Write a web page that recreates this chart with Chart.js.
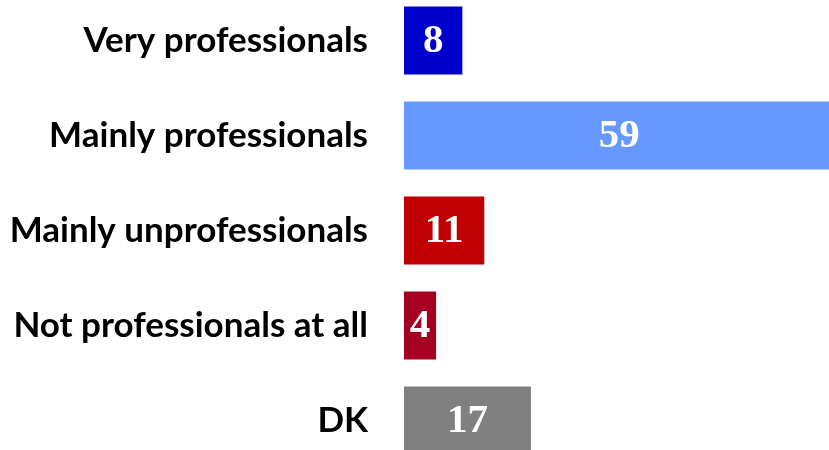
<!DOCTYPE html>
<html>
<head>
<meta charset="utf-8">
<script src="https://cdn.jsdelivr.net/npm/chart.js@4"></script>
<style>
  html, body { margin: 0; padding: 0; overflow: hidden; background: #fff; width: 829px; height: 450px; }
  #barChart { position: absolute; left: 0; top: -7px; }
</style>
</head>
<body>
<canvas id="barChart" width="860" height="475"></canvas>
<script>
var categories = ['Very professionals', 'Mainly professionals', 'Mainly unprofessionals', 'Not professionals at all', 'DK'];
var values = [8, 59, 11, 4.4, 17.4];
var barColors = ['#0000CC', '#6699FF', '#C00000', '#A50021', '#808080'];

// white value labels in the middle of each bar
var barLabels = {
    id: 'barLabels',
    afterDatasetsDraw: function(chart) {
        var ctx = chart.ctx;
        var area = chart.chartArea;
        chart.getDatasetMeta(0).data.forEach(function(bar, i) {
            ctx.save();
            ctx.beginPath();
            ctx.rect(bar.base, bar.y - bar.height / 2, Math.min(bar.x, area.right) - bar.base, bar.height);
            ctx.clip();
            ctx.fillStyle = '#fff';
            ctx.font = 'bold 41px "Liberation Serif"';
            ctx.textAlign = 'center';
            ctx.textBaseline = 'middle';
            ctx.fillText(Math.round(values[i]), (bar.base + bar.x) / 2, bar.y + 1);
            ctx.restore();
        });
    }
};

var ctx = document.getElementById('barChart').getContext('2d');
var barChart = new Chart(ctx, {
    type: 'bar',
    data: {
        labels: categories,
        datasets: [{
            data: values,
            backgroundColor: barColors,
            barPercentage: 0.716,
            categoryPercentage: 1
        }]
    },
    options: {
        indexAxis: 'y',
        responsive: false,
        animation: false,
        layout: { padding: 0 },
        plugins: {
            legend: { display: false },
            tooltip: { enabled: false }
        },
        scales: {
            x: {
                display: false,
                min: 0,
                max: 62.5
            },
            y: {
                afterFit: function(scale) {
                    scale.width = 404;
                    scale.paddingTop = 0;
                    scale.paddingBottom = 0;
                },
                grid: { display: false, drawTicks: false },
                border: { display: false },
                ticks: {
                    padding: 36,
                    color: '#000',
                    font: { family: 'Lato', weight: 'bold', size: 35 }
                }
            }
        }
    },
    plugins: [barLabels]
});
</script>
</body>
</html>
